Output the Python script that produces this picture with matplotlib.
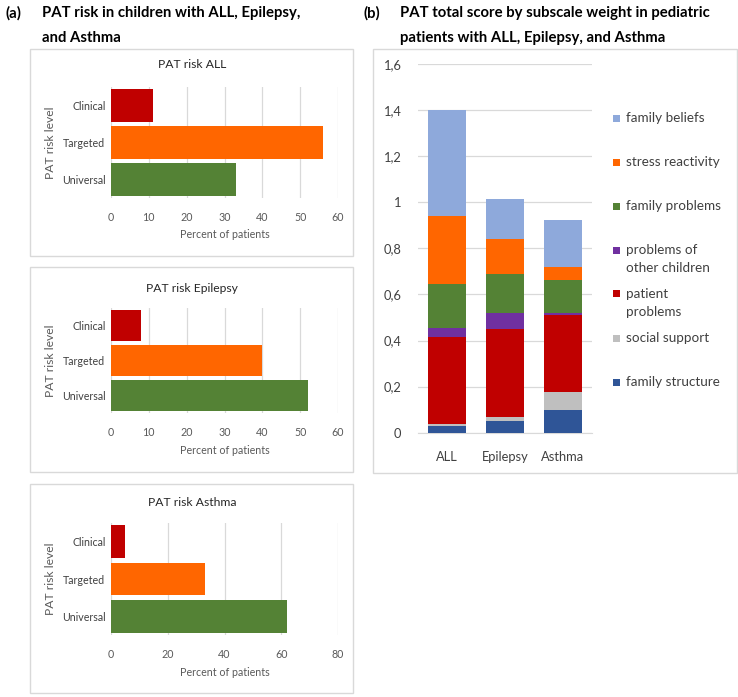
import matplotlib
matplotlib.use("Agg")
import matplotlib.pyplot as plt
from matplotlib.patches import Rectangle
import numpy as np

plt.rcParams['font.family'] = ['Lato', 'DejaVu Sans']

# ---------------- data ----------------
risk_levels = ["Universal", "Targeted", "Clinical"]
risk_colors = ["#548235", "#FF6600", "#C00000"]
all_risk = [33, 56, 11]
epilepsy_risk = [52, 40, 8]
asthma_risk = [62, 33, 5]

groups = ["ALL", "Epilepsy", "Asthma"]
subscales = ["family structure", "social support", "patient\nproblems",
             "problems of\nother children", "family problems",
             "stress reactivity", "family beliefs"]
sub_colors = ["#2F5597", "#BFBFBF", "#C00000", "#7030A0", "#548235",
              "#FF6600", "#8EA9DB"]
family_structure = [0.030, 0.049, 0.097]
social_support = [0.008, 0.018, 0.078]
patient_problems = [0.377, 0.381, 0.336]
other_children = [0.039, 0.071, 0.008]
family_problems = [0.193, 0.171, 0.143]
stress_reactivity = [0.295, 0.150, 0.055]
family_beliefs = [0.458, 0.175, 0.206]
sub_values = [family_structure, social_support, patient_problems,
              other_children, family_problems, stress_reactivity,
              family_beliefs]

W, H = 738, 697
fig = plt.figure(figsize=(W / 100, H / 100), dpi=100)

def fx(px):
    return px / W

def fy(py):
    return 1 - py / H

def box(x0, y0, x1, y1):
    fig.patches.append(Rectangle((fx(x0), fy(y1)), fx(x1 - x0), (y1 - y0) / H,
                                 transform=fig.transFigure, fill=False,
                                 edgecolor="#D9D9D9", linewidth=1.0))

tick_col = "#595959"
grid_col = "#D9D9D9"

# ---------------- panel titles ----------------
tfs = 10.7
fig.text(fx(5), fy(13), "(a)", fontsize=tfs, fontweight="bold", va="center", ha="left")
fig.text(fx(42), fy(13), "PAT risk in children with ALL, Epilepsy,", fontsize=tfs,
         fontweight="bold", va="center", ha="left")
fig.text(fx(42), fy(38), "and Asthma", fontsize=tfs, fontweight="bold", va="center", ha="left")
fig.text(fx(363), fy(13), "(b)", fontsize=tfs, fontweight="bold", va="center", ha="left")
fig.text(fx(400), fy(13), "PAT total score by subscale weight in pediatric", fontsize=tfs,
         fontweight="bold", va="center", ha="left")
fig.text(fx(400), fy(38), "patients with ALL, Epilepsy, and Asthma", fontsize=tfs,
         fontweight="bold", va="center", ha="left")

# ---------------- panel (a) ----------------
panels = [
    ("PAT risk ALL", all_risk, 60, [0, 10, 20, 30, 40, 50, 60], (49, 256), (87, 198), 65, 235),
    ("PAT risk Epilepsy", epilepsy_risk, 60, [0, 10, 20, 30, 40, 50, 60], (267, 472), (308, 413), 288, 451),
    ("PAT risk Asthma", asthma_risk, 80, [0, 20, 40, 60, 80], (484, 693), (523, 635), 502, 673),
]
for title, vals, xmax, ticks, (b0, b1), (a0, a1), ty, ly in panels:
    box(30, b0, 353, b1)
    ax = fig.add_axes([fx(111), fy(a1), fx(338 - 111), (a1 - a0) / H])
    y = np.arange(len(risk_levels))
    ax.barh(y, vals, height=0.88, color=risk_colors, zorder=3)
    ax.set_xlim(0, xmax)
    ax.set_ylim(-0.5, 2.5)
    ax.set_xticks(ticks)
    ax.set_yticks(y)
    ax.set_yticklabels(risk_levels)
    ax.xaxis.grid(True, color=grid_col, linewidth=0.9, zorder=0)
    for s in ax.spines.values():
        s.set_visible(False)
    ax.tick_params(axis="both", length=0, labelsize=7.7, colors=tick_col)
    ax.tick_params(axis="x", pad=10)
    ax.tick_params(axis="y", pad=4)
    for lab in ax.get_yticklabels():
        lab.set_color("#404040")
    fig.text(fx(192), fy(ty), title, fontsize=8.7, ha="center", va="center", color="#262626")
    fig.text(fx(225), fy(ly), "Percent of patients", fontsize=7.7, ha="center", va="center",
             color=tick_col)
    fig.text(fx(51), fy((a0 + a1) / 2), "PAT risk level", fontsize=8.7, rotation=90,
             ha="center", va="center", color=tick_col)

# ---------------- panel (b) ----------------
box(373, 49, 737, 473)
axb = fig.add_axes([fx(418), fy(432.7), fx(592 - 418), (432.7 - 64) / H])
x = np.arange(len(groups))
bottom = np.zeros(len(groups))
for name, vals, col in zip(subscales, sub_values, sub_colors):
    axb.bar(x, vals, width=0.64, bottom=bottom, color=col, zorder=3)
    bottom += np.array(vals)
axb.set_xlim(-0.5, 2.5)
axb.set_ylim(0, 1.6)
yt = np.arange(0, 1.61, 0.2)
axb.set_yticks(yt)
axb.set_yticklabels(["0" if v == 0 else ("1" if abs(v - 1) < 1e-9 else f"{v:.1f}".replace(".", ","))
                     for v in yt])
axb.set_xticks(x)
axb.set_xticklabels(groups)
axb.yaxis.grid(True, color=grid_col, linewidth=0.9, zorder=0)
for s in axb.spines.values():
    s.set_visible(False)
axb.spines["bottom"].set_visible(True)
axb.spines["bottom"].set_color(grid_col)
axb.tick_params(axis="both", length=0, labelsize=9.3, colors="#404040")
axb.tick_params(axis="y", pad=12)
axb.tick_params(axis="x", pad=13)

# legend (Excel style: equal spacing per entry, wrapped labels)
for i, (name, col) in enumerate(zip(subscales[::-1], sub_colors[::-1])):
    ly0 = 118 + 44 * i
    fig.patches.append(Rectangle((fx(613), fy(ly0 + 3.5)), fx(7), 7 / H,
                                 transform=fig.transFigure, facecolor=col,
                                 edgecolor="none"))
    for j, line in enumerate(name.split("\n")):
        fig.text(fx(626), fy(ly0 + 18 * j), line, fontsize=9.7, ha="left",
                 va="center", color="#404040")

fig.savefig("out.png", dpi=100)
